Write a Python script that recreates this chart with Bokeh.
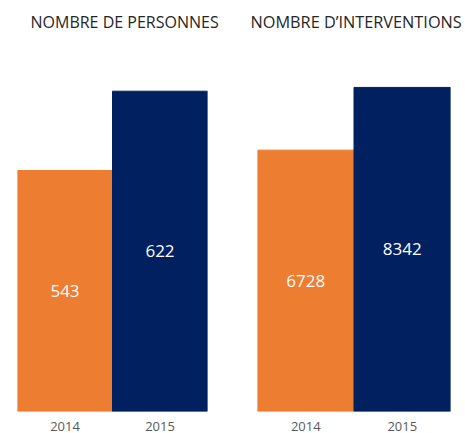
from bokeh.plotting import figure
from bokeh.layouts import row
from bokeh.models import ColumnDataSource, FactorRange, Range1d
from bokeh.embed import file_html
from bokeh.resources import INLINE
from bokeh.core.properties import value

years = ["2014", "2015"]
personnes = [543, 622]
interventions = [6728, 8342]
colors = ["#ED7D31", "#002060"]
titles = ["NOMBRE DE PERSONNES", "NOMBRE D\u2019INTERVENTIONS"]

FONT = "Open Sans"
TOP = 40


def panel(title, vals, y_start, y_end, width, left, right, title_offset, tsize):
    src = ColumnDataSource(dict(
        x=years,
        top=vals,
        mid=[(y_start + v) / 2 for v in vals],
        label=[str(v) for v in vals],
        color=colors,
    ))
    p = figure(x_range=FactorRange(*years, range_padding=0),
               y_range=Range1d(y_start, y_end),
               width=width, height=433, output_backend="svg", toolbar_location=None,
               min_border_left=left, min_border_right=right,
               min_border_top=TOP, min_border_bottom=0)
    p.vbar(x="x", top="top", bottom=y_start, width=1.0, source=src,
           fill_color="color", line_color="color")
    p.text(x="x", y="mid", text="label", source=src, text_color="white",
           text_font=value(FONT), text_font_size="17px",
           text_align="center", text_baseline="middle")
    p.title.text = title
    p.title.align = "left"
    p.title.offset = title_offset
    p.title.text_font = FONT
    p.title.text_font_size = tsize
    p.title.text_font_style = "normal"
    p.title.text_color = "#262626"
    p.title.standoff = 16
    p.yaxis.visible = False
    p.xgrid.visible = False
    p.ygrid.visible = False
    p.outline_line_color = None
    ax = p.xaxis[0]
    ax.axis_line_color = None
    ax.major_tick_line_color = None
    ax.minor_tick_line_color = None
    ax.major_label_text_font = FONT
    ax.major_label_text_font_size = "13px"
    ax.major_label_text_color = "#595959"
    ax.major_label_standoff = 4
    return p


p1 = panel(titles[0], personnes, 303, 672.5, 232, 17, 25, 13, "16px")
p2 = panel(titles[1], interventions, 0, 9550, 233, 25, 15, -7, "16.3px")
layout = row(p1, p2)

open("out.html", "w").write(file_html(layout, INLINE))
